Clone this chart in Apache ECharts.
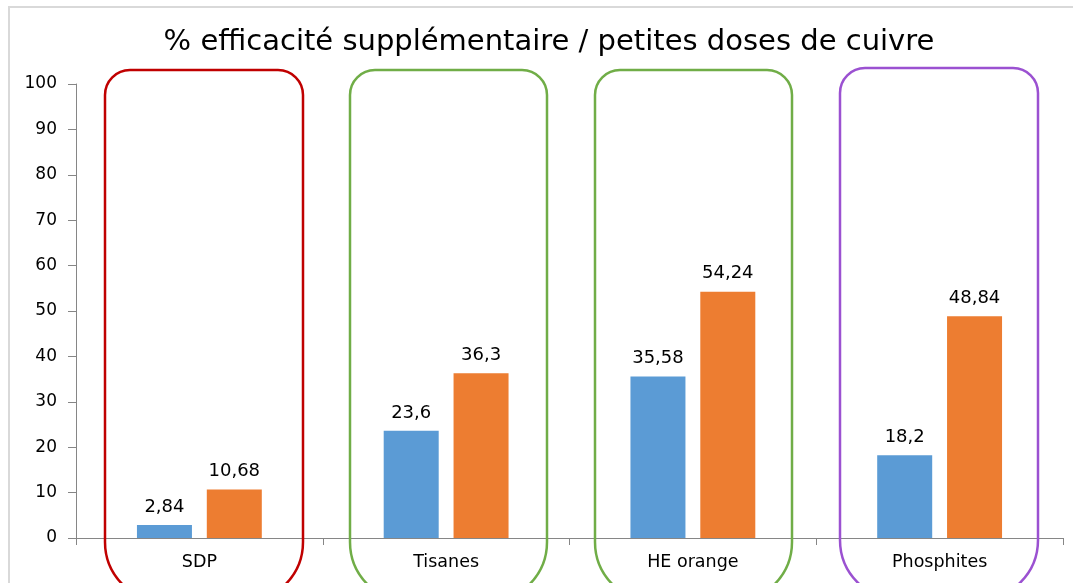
<!DOCTYPE html>
<html>
<head>
<meta charset="utf-8">
<script src="https://cdn.jsdelivr.net/npm/echarts@6/dist/echarts.min.js"></script>
<style>
  html, body { margin: 0; padding: 0; background: #fff; }
  #chart { width: 1073px; height: 583px; }
</style>
</head>
<body>
<div id="chart"></div>
<script>
// données
const categories = ['SDP', 'Tisanes', 'HE orange', 'Phosphites'];
const serieBleue = [2.84, 23.6, 35.58, 18.2];
const serieOrange = [10.68, 36.3, 54.24, 48.84];
const yTicks = { min: 0, max: 100, interval: 10 };

const font = 'DejaVu Sans, Verdana, sans-serif';
const chart = echarts.init(document.getElementById('chart'));

// cadres arrondis autour des groupes
const boxes = [
  { x: 105, y: 70, w: 198, color: '#C00000' },
  { x: 350, y: 70, w: 197, color: '#70AD47' },
  { x: 595, y: 70, w: 197, color: '#70AD47' },
  { x: 840, y: 68, w: 198, color: '#9B51D1' },
];

const virgule = (p) => String(p.value).replace('.', ',');

const option = {
  backgroundColor: '#fff',
  animation: false,
  title: {
    text: '% efficacité supplémentaire / petites doses de cuivre',
    left: 549,
    top: 28,
    padding: 0,
    textAlign: 'center',
    textStyle: { fontFamily: font, fontSize: 29, fontWeight: 'normal', color: '#000' },
  },
  grid: { left: 76, right: 10, top: 84, bottom: 45 },
  xAxis: {
    type: 'category',
    data: categories,
    axisLine: { lineStyle: { color: '#868686', width: 1 } },
    axisTick: { show: true, length: 7, lineStyle: { color: '#868686' } },
    axisLabel: { color: '#000', fontFamily: font, fontSize: 17.5, margin: 15 },
  },
  yAxis: {
    type: 'value',
    min: yTicks.min,
    max: yTicks.max,
    interval: yTicks.interval,
    axisLine: { show: true, lineStyle: { color: '#868686', width: 1 } },
    axisTick: { show: true, length: 8, lineStyle: { color: '#868686' } },
    axisLabel: { color: '#000', fontFamily: font, fontSize: 17, margin: 19 },
    splitLine: { show: false },
  },
  series: [
    {
      name: 'Série 1',
      type: 'bar',
      data: serieBleue,
      barWidth: 55,
      barGap: '27%',
      itemStyle: { color: '#5B9BD5' },
      label: { show: true, position: 'top', distance: 9, formatter: virgule,
        color: '#000', fontFamily: font, fontSize: 18 },
    },
    {
      name: 'Série 2',
      type: 'bar',
      data: serieOrange,
      barWidth: 55,
      barGap: '27%',
      itemStyle: { color: '#ED7D31' },
      label: { show: true, position: 'top', distance: 9, formatter: virgule,
        color: '#000', fontFamily: font, fontSize: 18 },
    },
  ],
  graphic: [
    {
      type: 'rect',
      shape: { x: 9, y: 7, width: 1200, height: 700 },
      style: { fill: 'none', stroke: '#D9D9D9', lineWidth: 2 },
      silent: true,
      z: 0,
    },
  ].concat(boxes.map((b) => ({
    type: 'rect',
    shape: { x: b.x, y: b.y, width: b.w, height: 532, r: [25, 25, 60, 60] },
    style: { fill: 'none', stroke: b.color, lineWidth: 2.5 },
    silent: true,
    z: 100,
  }))),
};

chart.setOption(option);
</script>
</body>
</html>
